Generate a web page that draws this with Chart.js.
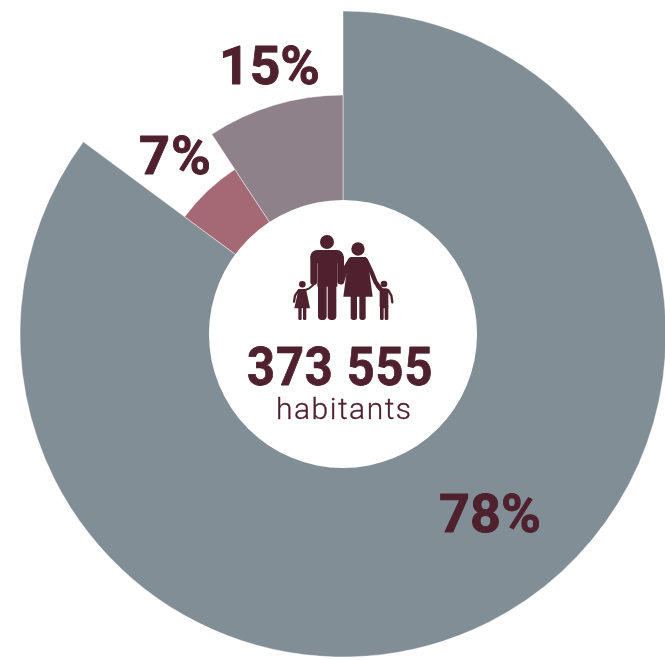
<!DOCTYPE html>
<html><head><meta charset="utf-8">
<style>html,body{margin:0;padding:0;background:#fff;overflow:hidden}#clip{width:665px;height:660px;overflow:hidden;position:relative}#w{width:690px;height:660px;position:relative}</style>
<script src="https://cdn.jsdelivr.net/npm/chart.js@4"></script></head>
<body><div id="clip"><div id="w"><canvas id="c"></canvas></div></div>
<script>
const categories = ['78%', '7%', '15%'];
const sweepDegrees = [306.5, 20.2, 33.3];
const radialLength = [100, 61, 74];
const holeLength = 41.5;
const sliceColors = ['#828E95', '#A56975', '#8E8189'];
const totalLabel = '373 555';
const unitLabel = 'habitants';
const INK = '#4F212F';

function txt(ctx, s, x, y, font, ls, sx, heavy) {
  ctx.save();
  ctx.translate(x, y); ctx.scale(sx || 1, 1);
  ctx.font = font; ctx.letterSpacing = ls || '0px';
  ctx.textAlign = 'left'; ctx.textBaseline = 'alphabetic'; ctx.fillStyle = INK;
  if (heavy) { ctx.strokeStyle = INK; ctx.lineWidth = heavy; ctx.lineJoin = 'round'; ctx.strokeText(s, 0, 0); }
  ctx.fillText(s, 0, 0);
  ctx.restore();
}
function poly(ctx, pts) {
  ctx.beginPath(); pts.forEach((p, i) => i ? ctx.lineTo(p[0], p[1]) : ctx.moveTo(p[0], p[1]));
  ctx.closePath(); ctx.fill();
}
function rr(ctx, x, y, w, h, r) { ctx.beginPath(); ctx.roundRect(x, y, w, h, r); ctx.fill(); }
function disc(ctx, x, y, r) { ctx.beginPath(); ctx.arc(x, y, r, 0, Math.PI * 2); ctx.fill(); }
function limb(ctx, pts, w) {
  ctx.lineWidth = w; ctx.lineCap = 'round'; ctx.lineJoin = 'round'; ctx.strokeStyle = INK;
  ctx.beginPath(); pts.forEach((p, i) => i ? ctx.lineTo(p[0], p[1]) : ctx.moveTo(p[0], p[1])); ctx.stroke();
}
function family(ctx) {
  ctx.save(); ctx.translate(230, 225); ctx.scale(1 / 3, 1 / 3); ctx.fillStyle = INK;
  // man
  disc(ctx, 291, 51, 21);
  rr(ctx, 241, 75, 100, 40, 20);
  rr(ctx, 241, 90, 20, 90, 9);
  rr(ctx, 322, 90, 20, 88, 9);
  ctx.fillRect(262, 85, 60, 100);
  rr(ctx, 264, 170, 26, 115, 11);
  rr(ctx, 293, 170, 26, 115, 11);
  // woman
  disc(ctx, 384, 72, 20);
  poly(ctx, [[362,96],[408,96],[414,110],[428,215],[340,215],[354,110]]);
  limb(ctx, [[362,106],[345,135],[334,170]], 17);
  limb(ctx, [[408,106],[424,140],[437,172],[452,192]], 13);
  rr(ctx, 362, 205, 19, 80, 8);
  rr(ctx, 388, 205, 19, 80, 8);
  // left child
  disc(ctx, 217, 178, 10);
  poly(ctx, [[206,192],[228,192],[240,250],[193,250]]);
  limb(ctx, [[206,196],[195,212],[192,230]], 7);
  limb(ctx, [[226,195],[238,190],[250,180]], 6);
  rr(ctx, 205, 245, 10, 40, 4);
  rr(ctx, 219, 245, 10, 40, 4);
  // right child
  disc(ctx, 462, 177, 10);
  rr(ctx, 449, 190, 26, 60, 6);
  limb(ctx, [[475,196],[484,212],[487,232]], 7);
  limb(ctx, [[450,195],[440,184]], 6);
  rr(ctx, 450, 240, 11, 45, 4);
  rr(ctx, 464, 240, 11, 45, 4);
  ctx.restore();
}
const overlay = {
  id: 'overlay',
  afterDatasetsDraw(chart) {
    const ctx = chart.ctx, r = chart.scales.r;
    ctx.save();
    ctx.fillStyle = '#fff';
    ctx.beginPath();
    ctx.arc(r.xCenter, r.yCenter, r.getDistanceFromCenterForValue(holeLength), 0, Math.PI * 2);
    ctx.fill();
    family(ctx);
    txt(ctx, totalLabel, 247, 385, 'bold 53px Roboto', '1px', 0.92, 0.8);
    txt(ctx, unitLabel, 276, 419, '300 30px Roboto', '1.5px', 1, 0.3);
    txt(ctx, categories[0], 439, 532, 'bold 54px Roboto', '0px', 1, 0.9);
    txt(ctx, categories[1], 139, 174, 'bold 54px Roboto', '1px', 1, 0.9);
    txt(ctx, categories[2], 219, 84, 'bold 54px Roboto', '0px', 0.99, 0.9);
    ctx.restore();
  }
};
new Chart(document.getElementById('c'), {
  type: 'polarArea',
  data: {
    labels: categories,
    datasets: [{
      data: radialLength,
      backgroundColor: sliceColors,
      borderColor: 'rgba(255,255,255,0.45)',
      borderWidth: 1,
      angle: c => sweepDegrees[c.dataIndex]
    }]
  },
  options: {
    responsive: true, maintainAspectRatio: false, animation: false,
    layout: { padding: { left: 18, right: 21, top: 11, bottom: 2 } },
    plugins: { legend: { display: false }, tooltip: { enabled: false } },
    scales: { r: { display: false, min: 0, max: 100, startAngle: 0 } }
  },
  plugins: [overlay]
});
</script></body></html>
